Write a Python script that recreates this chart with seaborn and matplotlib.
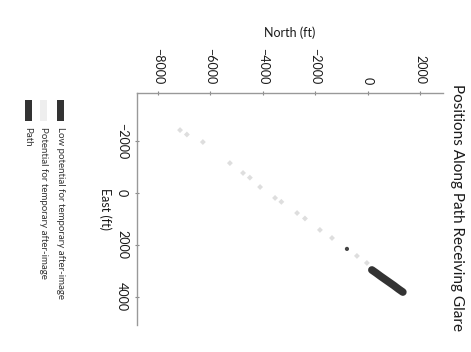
import matplotlib
matplotlib.use("Agg")
import matplotlib.pyplot as plt
import seaborn as sns
import pandas as pd
from matplotlib.patches import Rectangle

# ---- data (chart is shown rotated 90 deg clockwise) ----
title = "Positions Along Path Receiving Glare"
north_label = "North (ft)"
east_label = "East (ft)"
north_ticks = [-8000, -6000, -4000, -2000, 0, 2000]
north_tick_labels = ["\u22128000", "\u22126000", "\u22124000", "\u22122000", "0", "2000"]
east_ticks = [-2000, 0, 2000, 4000]
east_tick_labels = ["\u22122000", "0", "2000", "4000"]
legend_labels = ["Low potential for temporary after-image",
                 "Potential for temporary after-image",
                 "Path"]

# "Potential for temporary after-image" points (faint in the scan)
pot_north = [-7160, -6900, -6290, -5260, -4760, -4500, -4110, -3540, -3300,
             -2700, -2400, -1830, -1370, -420, -40]
pot_east = [-2420, -2250, -1960, -1150, -770, -590, -230, 190, 340,
            770, 980, 1420, 1730, 2420, 2690]

# "Low potential for temporary after-image" points (dark)
low_north = [150, 320, 480, 650, 820, 990, 1160, 1330]
low_east = [2960, 3080, 3200, 3320, 3440, 3560, 3690, 3810]
dot_north = [-800]
dot_east = [2150]

pot_df = pd.DataFrame({"North": pot_north, "East": pot_east})
low_df = pd.DataFrame({"North": low_north, "East": low_east})
dot_df = pd.DataFrame({"North": dot_north, "East": dot_east})

sns.set_theme(style="white")
plt.rcParams["font.family"] = ["Lato", "DejaVu Sans"]

fig = plt.figure(figsize=(4.71, 3.52), dpi=100)
ax = fig.add_axes([137 / 471, 27 / 352, 306 / 471, 232 / 352])

sns.scatterplot(data=pot_df, x="North", y="East", color="#dedede", s=9,
                marker="D", edgecolor="none", ax=ax, legend=False)
sns.lineplot(data=low_df, x="North", y="East", color="#333333", linewidth=5.5,
             sort=False, estimator=None, solid_capstyle="round", ax=ax,
             legend=False)
sns.scatterplot(data=dot_df, x="North", y="East", color="#444444", s=9,
                edgecolor="none", ax=ax, legend=False)

ax.set_xlim(-8800, 2860)
ax.set_ylim(5077, -3846)

ax.xaxis.tick_top()
ax.xaxis.set_label_position("top")
ax.set_xticks(north_ticks)
ax.set_xticklabels(north_tick_labels, rotation=-90, fontsize=9, color="#1a1a1a")
ax.set_yticks(east_ticks)
ax.set_yticklabels(east_tick_labels, rotation=-90, va="center", fontsize=9,
                   color="#1a1a1a")
ax.tick_params(axis="x", top=True, bottom=False, length=3, width=0.8,
               color="#888888", direction="inout", pad=5)
ax.tick_params(axis="y", left=True, right=False, length=3, width=0.8,
               color="#888888", direction="inout", pad=5)

for s in ["right", "bottom"]:
    ax.spines[s].set_visible(False)
for s in ["top", "left"]:
    ax.spines[s].set_color("#999999")
    ax.spines[s].set_linewidth(1.0)

ax.set_xlabel(north_label, fontsize=9, color="#1a1a1a", va="center")
ax.xaxis.set_label_coords(0.5, 1.259)
ax.set_ylabel(east_label, fontsize=9, color="#1a1a1a", rotation=-90,
              va="center", ha="center")
ax.yaxis.set_label_coords(-0.105, 0.5)

fig.text(457 / 471, 1 - 208 / 352, title, rotation=-90, ha="center",
         va="center", fontsize=11, color="#1a1a1a")

# legend (rotated along with the chart)
leg_x = [60, 43, 28]
leg_colors = ["#333333", "#eeeeee", "#333333"]
for xp, lab, col in zip(leg_x, legend_labels, leg_colors):
    fig.add_artist(Rectangle(((xp - 3.5) / 471, 1 - 121 / 352), 7 / 471, 21 / 352,
                             transform=fig.transFigure, facecolor=col,
                             edgecolor="none"))
    fig.text(xp / 471, 1 - 127 / 352, lab, rotation=-90, ha="center", va="top",
             fontsize=7, color="#333333")

fig.savefig("out.png", dpi=100)
